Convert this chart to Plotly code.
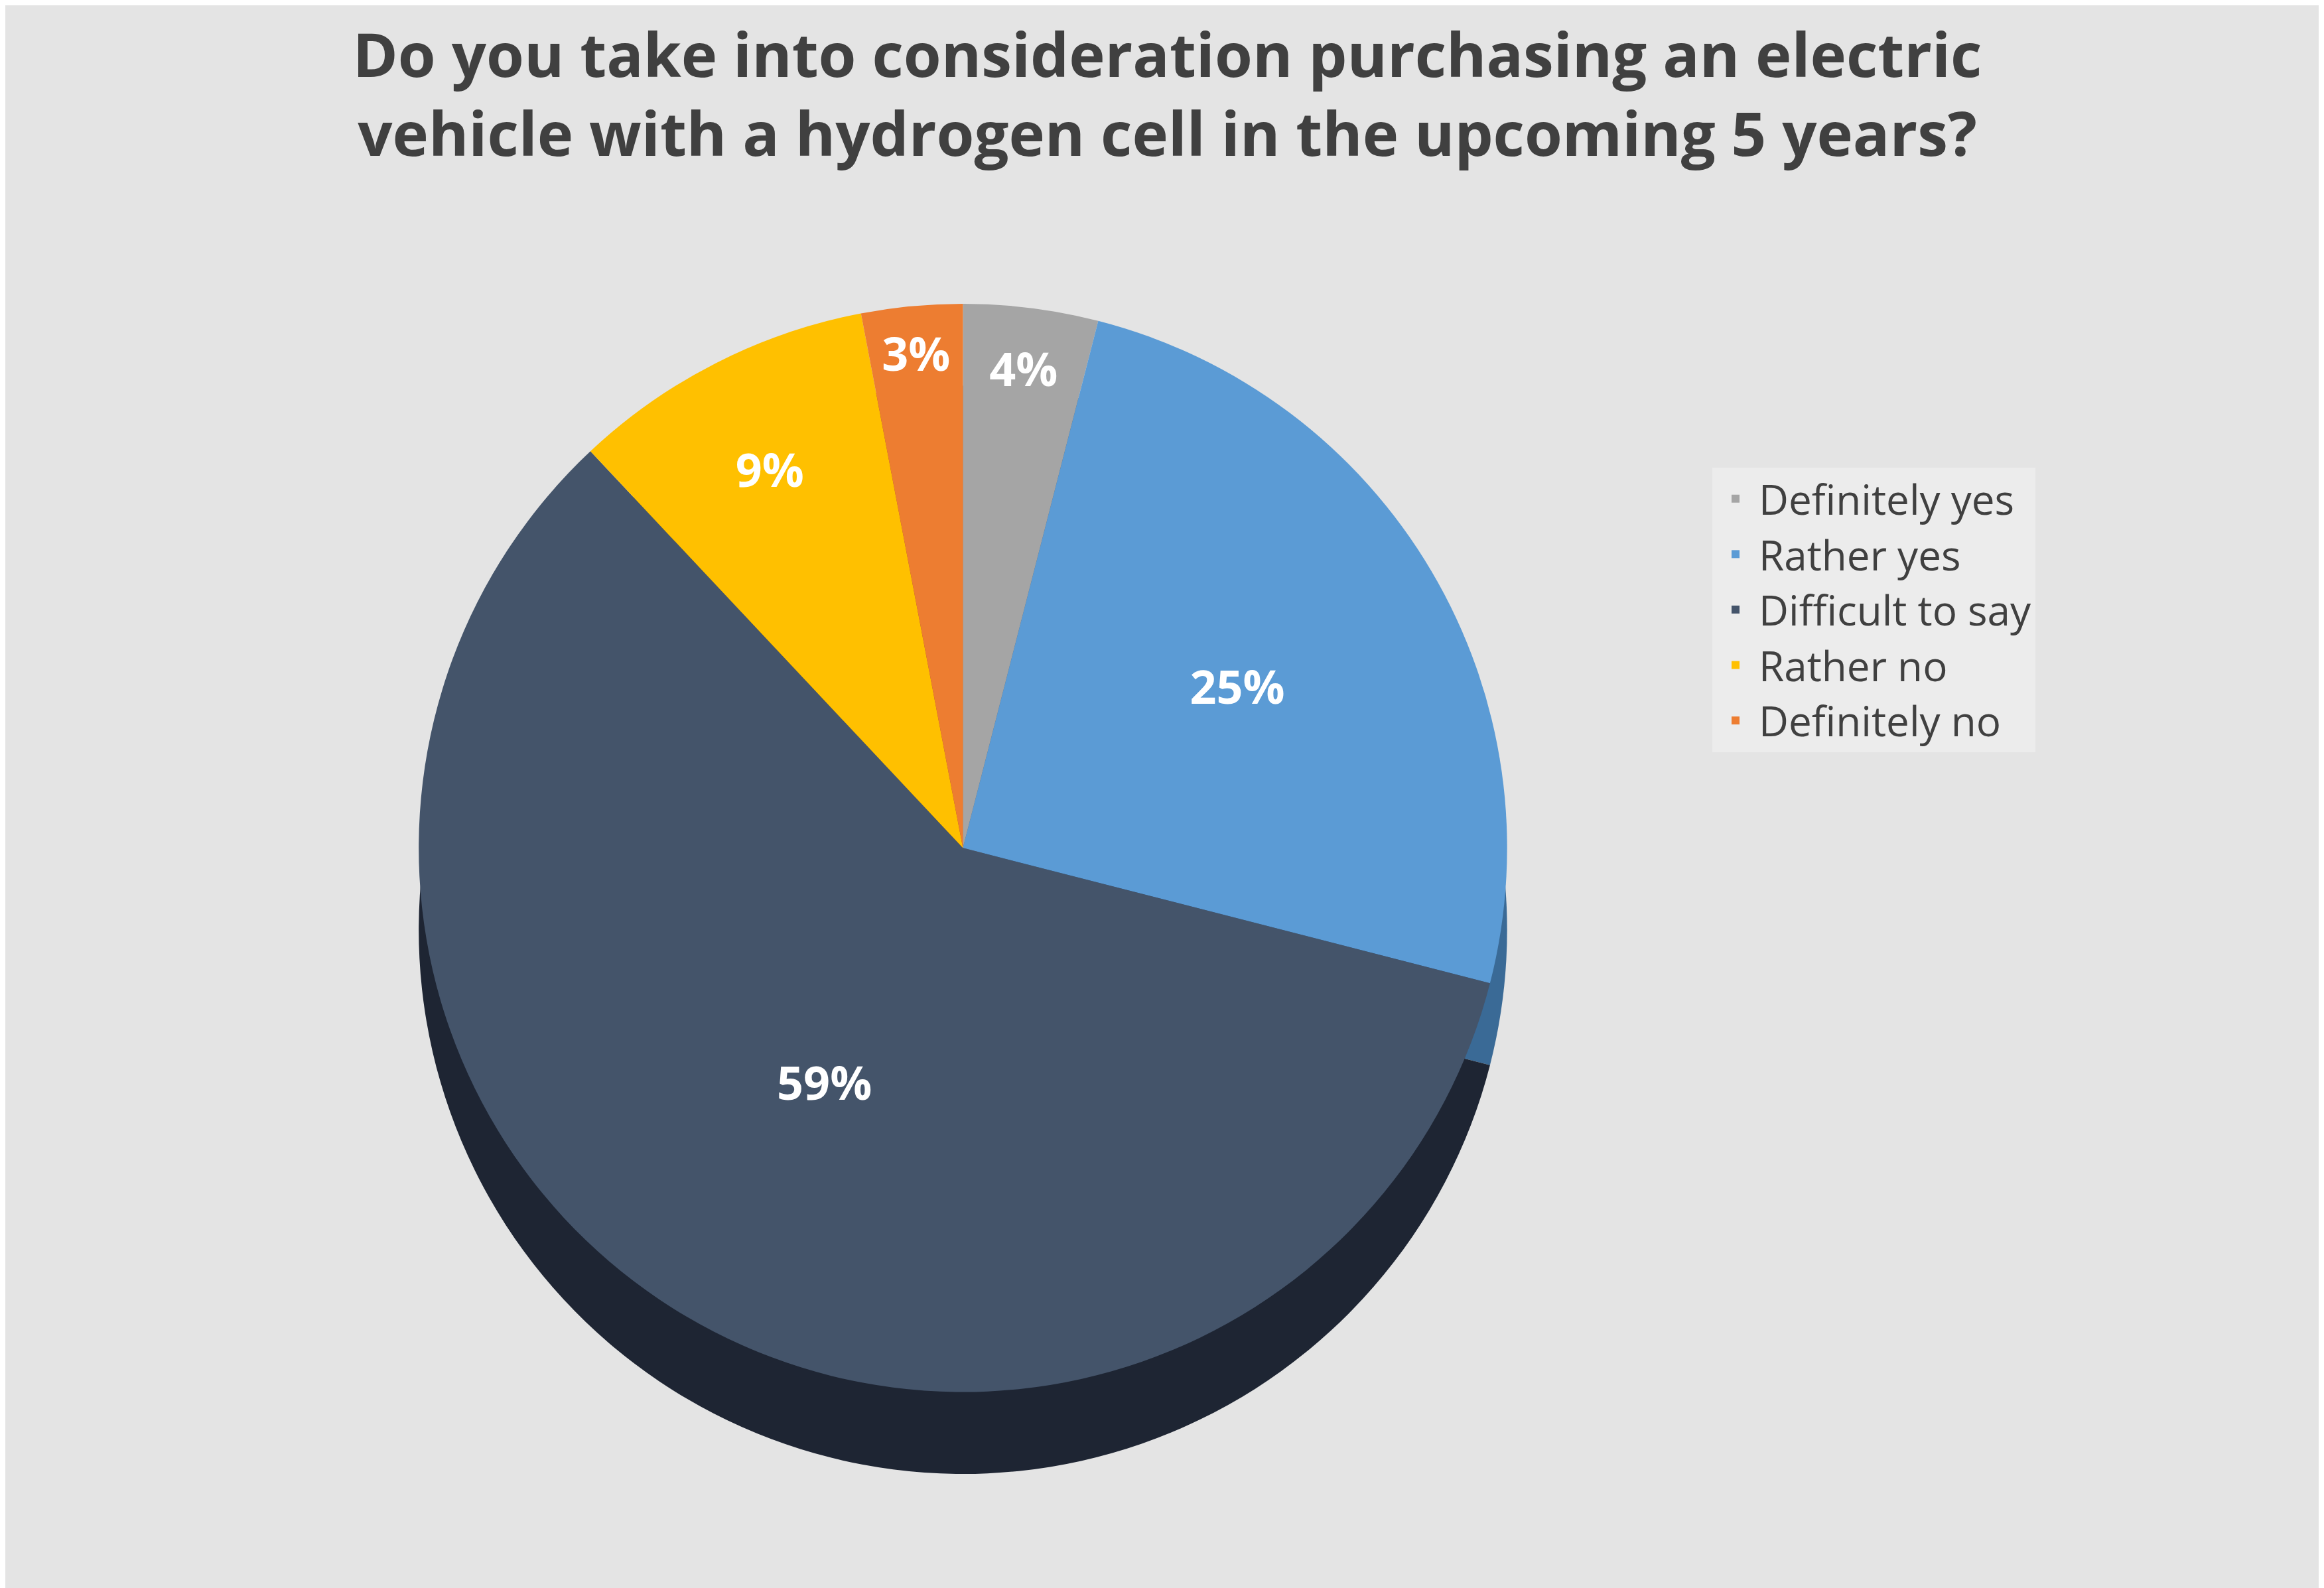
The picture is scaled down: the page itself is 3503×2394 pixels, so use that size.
import plotly.graph_objects as go

answers = ["Definitely yes", "Rather yes", "Difficult to say", "Rather no", "Definitely no"]
shares = [4, 25, 59, 9, 3]
colors = ["#a5a5a5", "#5b9bd5", "#44546a", "#ffc000", "#ed7d31"]
side_colors = ["#6e6e6e", "#3a6a96", "#1e2533", "#b38600", "#a55420"]

fig = go.Figure()

# darker copy underneath to fake the 3D edge
fig.add_trace(go.Pie(labels=answers, values=shares, sort=False, direction="clockwise", rotation=0,
                     marker=dict(colors=side_colors), textinfo="none", hoverinfo="skip",
                     showlegend=False, domain=dict(x=[0.08, 0.74], y=[0.0, 0.93])))

fig.add_trace(go.Pie(labels=answers, values=shares, sort=False, direction="clockwise", rotation=0,
                     marker=dict(colors=colors), texttemplate="<b>%{percent:.0%}</b>",
                     textposition="inside", insidetextorientation="horizontal",
                     textfont=dict(color="white", size=70, family="Open Sans"),
                     domain=dict(x=[0.08, 0.74], y=[0.07, 1.0])))

fig.update_layout(
    width=3503, height=2394,
    paper_bgcolor="#e4e4e4",
    title=dict(text="<b>Do you take into consideration purchasing an electric<br>vehicle with a hydrogen cell in the upcoming 5 years?</b>",
               x=0.5, y=0.955, xanchor="center", font=dict(size=92, color="#404040", family="Open Sans")),
    legend=dict(x=0.74, y=0.86, xanchor="left", yanchor="top", bgcolor="#ececec",
                font=dict(size=62, color="#404040", family="Open Sans"),
                itemwidth=60, borderwidth=0),
    margin=dict(l=40, r=40, t=450, b=180),
)
fig.write_html("out.html")
